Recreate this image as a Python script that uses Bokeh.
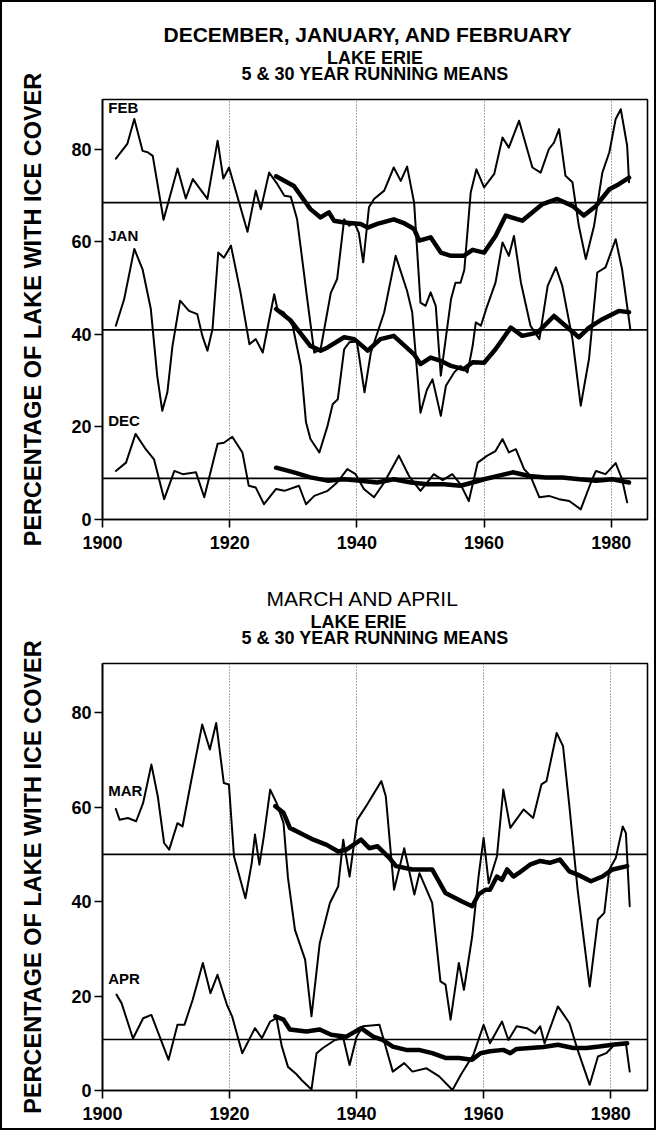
from bokeh.plotting import figure
from bokeh.models import Span, Label, FixedTicker, Range1d, Title
from bokeh.layouts import column
from bokeh.embed import file_html
from bokeh.resources import INLINE

# ---------------- data ----------------
X_TICKS = [1900, 1920, 1940, 1960, 1980]
Y_TICKS = [0, 20, 40, 60, 80]
GRID_YEARS = [1920, 1940, 1960, 1980]

FEB_MEAN = 68.5
JAN_MEAN = 41.0
DEC_MEAN = 8.9
MAR_MEAN = 50.0
APR_MEAN = 10.8

feb5_year = [1902.1, 1903.9, 1905.0, 1906.3, 1907.1, 1907.9, 1909.6, 1911.8, 1913.1, 1914.2, 1916.5, 1918.1, 1919.0, 1919.9,
             1922.8, 1924.1, 1924.9, 1926.2, 1927.5, 1928.6, 1929.6, 1930.6, 1931.4, 1932.2, 1933.3, 1934.3, 1935.9, 1936.9,
             1938.0, 1938.8, 1939.6, 1940.3, 1941.0, 1941.9, 1942.7, 1944.3, 1945.8, 1946.9, 1947.9, 1949.0, 1950.0, 1950.8,
             1951.6, 1952.4, 1953.2, 1954.8, 1955.5, 1956.3, 1956.9, 1957.9, 1958.8, 1960.0, 1961.6, 1962.9, 1963.9, 1965.5,
             1967.6, 1968.9, 1970.2, 1971.0, 1971.8, 1972.8, 1973.9, 1974.9, 1976.0, 1977.3, 1978.6, 1979.7, 1980.7, 1981.5,
             1982.5, 1982.8]
feb5_val = [78.0, 81.2, 86.6, 79.7, 79.4, 78.6, 64.8, 75.9, 69.4, 73.6, 69.3, 81.9, 73.7, 76.1,
            62.2, 71.1, 67.1, 75.0, 72.5, 70.0, 69.8, 64.9, 56.3, 47.6, 36.1, 36.8, 49.0, 52.0,
            64.9, 63.5, 64.2, 62.0, 55.6, 67.5, 69.3, 71.1, 76.1, 73.2, 76.3, 68.5, 46.9, 46.2,
            49.1, 46.2, 31.1, 47.6, 51.2, 51.2, 54.0, 70.7, 75.7, 71.8, 74.7, 82.6, 80.4, 86.2,
            76.1, 75.0, 80.1, 81.5, 84.4, 74.3, 72.9, 63.5, 56.3, 63.5, 75.0, 79.4, 86.6, 88.7,
            80.8, 72.9]

feb30_year = [1927.3, 1930.1, 1932.7, 1934.3, 1935.6, 1936.4, 1938.0, 1940.6, 1941.7, 1943.2, 1945.8, 1947.5, 1949.0,
              1949.8, 1951.6, 1953.2, 1954.8, 1956.8, 1958.2, 1960.0, 1961.8, 1963.4, 1966.0, 1969.2, 1971.5, 1973.9,
              1975.7, 1977.6, 1979.7, 1981.2, 1982.8]
feb30_val = [74.2, 72.1, 67.1, 65.3, 66.4, 64.6, 64.2, 63.9, 63.1, 63.9, 64.9, 64.0, 62.8,
             60.3, 61.0, 57.7, 57.0, 57.0, 58.3, 57.7, 61.3, 65.7, 64.6, 68.2, 69.3, 67.8,
             65.7, 67.8, 71.4, 72.5, 73.9]

jan5_year = [1902.1, 1903.4, 1905.0, 1906.3, 1907.6, 1908.6, 1909.4, 1910.2, 1911.0, 1912.2, 1913.6, 1914.9, 1915.7, 1916.5,
             1917.3, 1918.2, 1919.1, 1920.2, 1921.7, 1923.1, 1924.1, 1925.2, 1927.0, 1927.5, 1928.5, 1929.9, 1931.2, 1932.0,
             1932.7, 1934.1, 1935.4, 1936.2, 1937.0, 1938.0, 1938.8, 1940.0, 1941.2, 1942.2, 1944.3, 1946.1, 1947.9, 1948.7,
             1950.0, 1951.0, 1951.9, 1953.2, 1954.0, 1955.3, 1956.3, 1957.4, 1958.2, 1958.7, 1959.5, 1960.5, 1961.8, 1962.9,
             1963.9, 1964.7, 1965.8, 1967.3, 1968.7, 1970.0, 1971.3, 1972.3, 1973.9, 1975.2, 1976.5, 1977.8, 1979.1, 1980.7,
             1981.7, 1983.0]
jan5_val = [41.9, 47.6, 58.5, 54.1, 45.5, 31.1, 23.5, 27.5, 37.5, 47.3, 45.1, 44.4, 39.7, 36.5,
            41.2, 57.7, 56.6, 59.2, 49.1, 37.9, 39.0, 36.1, 48.7, 45.5, 44.8, 41.9, 33.2, 21.0,
            17.4, 14.5, 20.3, 24.9, 26.0, 36.8, 38.3, 38.5, 27.5, 36.1, 44.8, 57.0, 49.4, 44.8,
            23.1, 28.0, 30.3, 22.4, 28.9, 31.8, 33.2, 31.8, 37.5, 42.6, 41.9, 46.2, 51.2, 59.9,
            57.0, 61.3, 51.2, 41.9, 39.0, 50.5, 54.5, 50.5, 39.0, 24.6, 34.7, 53.4, 54.5, 60.6,
            54.1, 41.1]

jan30_year = [1927.3, 1929.6, 1932.7, 1934.3, 1935.4, 1938.0, 1939.6, 1941.7, 1943.7, 1945.8, 1949.0, 1950.0, 1951.6,
              1953.2, 1954.8, 1956.8, 1958.2, 1960.0, 1961.8, 1964.2, 1966.0, 1968.4, 1971.0, 1972.8, 1974.9, 1976.5,
              1978.6, 1981.2, 1982.8]
jan30_val = [45.5, 43.0, 37.5, 36.5, 37.2, 39.4, 39.0, 36.5, 39.0, 39.7, 35.7, 33.6, 35.0,
             34.3, 33.2, 32.5, 34.0, 33.9, 36.8, 41.5, 39.7, 40.4, 44.0, 41.9, 39.4, 41.5,
             43.3, 45.1, 44.8]

dec5_year = [1902.1, 1903.7, 1905.2, 1906.8, 1908.1, 1909.7, 1911.3, 1912.6, 1914.7, 1916.0, 1918.1, 1919.1, 1920.4, 1922.0,
             1923.0, 1924.1, 1925.4, 1927.3, 1928.6, 1930.9, 1932.0, 1933.3, 1935.4, 1936.9, 1938.5, 1939.8, 1941.1, 1942.7,
             1944.3, 1946.6, 1948.2, 1950.0, 1952.1, 1953.5, 1955.0, 1956.3, 1957.6, 1959.0, 1960.5, 1961.8, 1962.9, 1963.9,
             1965.0, 1966.3, 1967.3, 1968.7, 1970.2, 1971.8, 1973.4, 1975.2, 1977.0, 1977.6, 1979.1, 1980.7, 1981.7, 1982.5]
dec5_val = [10.5, 12.3, 18.5, 15.2, 13.0, 4.4, 10.5, 9.8, 10.2, 4.8, 16.4, 16.6, 17.9, 14.5,
            7.3, 6.9, 3.3, 6.6, 6.2, 7.3, 3.3, 5.1, 6.2, 8.0, 10.9, 9.8, 6.6, 4.8,
            8.0, 13.8, 9.4, 6.2, 9.8, 8.5, 9.8, 7.6, 4.0, 12.3, 13.8, 14.8, 17.4, 14.5,
            15.2, 10.9, 9.4, 4.8, 5.1, 4.4, 4.0, 2.2, 8.7, 10.5, 9.8, 12.2, 8.7, 3.7]

dec30_year = [1927.3, 1930.1, 1932.7, 1935.4, 1938.0, 1940.6, 1943.2, 1945.8, 1948.5, 1951.1, 1953.7, 1956.3, 1958.2,
              1960.0, 1964.5, 1967.1, 1969.7, 1972.3, 1975.0, 1977.6, 1980.2, 1982.8]
dec30_val = [11.2, 10.2, 9.1, 8.4, 8.7, 8.4, 8.0, 8.7, 8.0, 7.6, 7.6, 7.3, 8.0,
             8.7, 10.2, 9.4, 9.1, 9.1, 8.7, 8.4, 8.7, 8.0]

mar5_year = [1902.1, 1902.7, 1904.0, 1905.3, 1906.4, 1907.7, 1908.7, 1909.7, 1910.5, 1911.8, 1912.6, 1913.9, 1915.7, 1916.9,
             1917.9, 1919.1, 1919.9, 1920.7, 1922.5, 1923.5, 1924.0, 1924.7, 1925.4, 1926.4, 1927.4, 1928.5, 1929.2, 1930.3,
             1931.9, 1932.9, 1934.2, 1935.8, 1937.1, 1937.9, 1938.9, 1940.1, 1941.5, 1943.9, 1944.6, 1945.9, 1947.5, 1949.1,
             1949.9, 1951.9, 1953.2, 1954.0, 1954.8, 1956.1, 1956.9, 1958.2, 1959.2, 1960.0, 1960.8, 1962.1, 1963.1, 1964.2,
             1966.3, 1967.8, 1969.1, 1969.9, 1971.5, 1972.5, 1973.5, 1974.8, 1976.7, 1978.0, 1979.0, 1979.8, 1980.8, 1981.9,
             1982.4, 1983.0]
mar5_val = [59.6, 57.3, 57.7, 57.0, 60.9, 69.0, 62.3, 52.4, 51.0, 56.6, 55.9, 65.1, 77.5, 72.2,
            77.8, 65.1, 64.8, 49.6, 40.7, 48.2, 54.2, 47.8, 53.8, 63.7, 60.9, 56.6, 45.0, 34.0,
            27.7, 15.7, 31.2, 39.7, 43.2, 53.1, 45.3, 57.3, 60.2, 65.5, 62.3, 42.5, 51.3, 41.5,
            46.0, 39.7, 23.1, 22.4, 15.0, 27.0, 21.3, 32.6, 45.3, 53.5, 43.9, 49.6, 63.7, 55.6,
            59.5, 57.7, 64.8, 65.5, 75.7, 72.9, 60.2, 42.5, 22.0, 36.2, 37.6, 46.8, 49.2, 55.9,
            54.5, 39.0]

mar30_year = [1927.2, 1928.5, 1929.5, 1931.1, 1933.2, 1935.3, 1937.1, 1938.4, 1940.7, 1942.0, 1943.3, 1945.2, 1946.2,
              1948.8, 1951.9, 1954.0, 1956.6, 1958.2, 1959.2, 1960.3, 1961.0, 1962.1, 1962.9, 1963.7, 1964.7, 1965.5,
              1967.3, 1968.9, 1970.4, 1972.0, 1973.5, 1974.8, 1976.9, 1978.7, 1980.3, 1982.6]
mar30_val = [60.2, 58.8, 55.6, 54.5, 53.1, 52.0, 50.6, 51.0, 53.1, 51.3, 51.7, 49.2, 47.5,
             46.8, 46.8, 41.8, 40.0, 39.0, 41.5, 42.5, 42.5, 45.3, 44.6, 46.8, 45.3, 46.0,
             47.8, 48.6, 48.2, 48.9, 46.4, 45.7, 44.3, 45.3, 46.8, 47.5]

apr5_year = [1902.2, 1903.0, 1904.8, 1906.4, 1907.7, 1909.0, 1910.4, 1911.8, 1912.9, 1914.2, 1915.8, 1917.0, 1918.1, 1919.6,
             1920.4, 1922.0, 1924.0, 1925.1, 1926.4, 1927.4, 1928.2, 1929.2, 1930.5, 1931.5, 1932.9, 1933.7, 1934.7, 1936.6,
             1937.9, 1938.9, 1940.0, 1941.0, 1943.6, 1945.7, 1947.5, 1948.8, 1951.0, 1953.0, 1955.1, 1956.4, 1956.9, 1958.4,
             1960.0, 1961.0, 1962.9, 1963.9, 1965.2, 1966.8, 1968.1, 1968.9, 1969.6, 1971.7, 1973.5, 1974.8, 1976.7, 1978.0,
             1979.3, 1980.8, 1982.4, 1983.0]
apr5_val = [20.3, 18.5, 11.0, 15.3, 16.0, 11.4, 6.5, 13.9, 13.9, 19.2, 27.0, 20.6, 24.5, 18.1,
            15.7, 7.9, 13.2, 11.1, 14.6, 15.3, 9.5, 5.0, 3.5, 2.0, 0.2, 7.9, 9.0, 10.7,
            11.1, 5.4, 11.4, 13.6, 13.9, 4.0, 5.8, 4.0, 4.7, 3.0, 0.1, 3.3, 4.4, 7.6,
            13.9, 10.0, 14.6, 10.7, 13.6, 13.2, 12.1, 13.6, 10.0, 17.8, 14.3, 8.6, 1.2, 7.2,
            7.9, 10.0, 10.0, 4.0]

apr30_year = [1927.2, 1928.5, 1929.5, 1932.1, 1934.2, 1936.0, 1938.4, 1940.7, 1942.6, 1944.1, 1945.7, 1947.8, 1949.8,
              1951.9, 1954.0, 1956.1, 1958.2, 1959.5, 1961.0, 1963.1, 1964.2, 1965.2, 1967.3, 1969.4, 1971.7, 1974.1,
              1976.2, 1978.2, 1980.3, 1982.6]
apr30_val = [15.7, 15.0, 12.9, 12.5, 12.9, 11.8, 11.4, 13.2, 11.4, 10.7, 9.3, 8.6, 8.6,
             7.9, 6.9, 6.9, 6.5, 7.9, 8.3, 8.6, 7.9, 8.8, 9.0, 9.2, 9.7, 9.0,
             9.0, 9.3, 9.7, 10.0]

# ---------------- styling ----------------
FONT = "Liberation Sans"
W = 652
THIN = 2.0
THICK = 4.5


def make_plot(height, bl, frame_w, bt, bb, x_end, y_end, series, means, labels, titles):
    p = figure(width=W, height=height, output_backend="svg", toolbar_location=None,
               x_range=Range1d(1900, x_end), y_range=Range1d(0, y_end),
               min_border_left=bl, min_border_right=W - bl - frame_w,
               min_border_top=bt, min_border_bottom=bb)
    p.background_fill_color = "white"
    p.border_fill_color = "white"
    p.outline_line_color = "black"
    p.outline_line_width = 1.6

    for ax in (p.xaxis[0], p.yaxis[0]):
        ax.axis_line_width = 1.6
        ax.major_tick_line_width = 1.6
        ax.major_tick_out = 8
        ax.major_tick_in = 0
        ax.minor_tick_out = 0
        ax.minor_tick_in = 0
        ax.major_label_text_font = FONT
        ax.major_label_text_font_style = "bold"
        ax.major_label_text_font_size = "18px"
        ax.major_label_text_color = "black"
    p.xaxis.ticker = FixedTicker(ticks=X_TICKS)
    p.yaxis.ticker = FixedTicker(ticks=Y_TICKS)
    p.xaxis.major_label_standoff = 8
    p.yaxis.major_label_standoff = 3
    p.yaxis.axis_label = "PERCENTAGE OF LAKE WITH ICE COVER"
    p.yaxis.axis_label_text_font = FONT
    p.yaxis.axis_label_text_font_style = "bold"
    p.yaxis.axis_label_text_font_size = "23.5px"
    p.yaxis.axis_label_text_color = "black"
    p.yaxis.axis_label_standoff = 22

    p.ygrid.visible = False
    p.xgrid.ticker = FixedTicker(ticks=GRID_YEARS)
    p.xgrid.grid_line_color = "#555555"
    p.xgrid.grid_line_dash = "1 2"
    p.xgrid.grid_line_width = 1

    for m in means:
        p.add_layout(Span(location=m, dimension="width", line_color="black", line_width=1.6))

    for (xs, ys, lw) in series:
        p.line(xs, ys, line_color="black", line_width=lw, line_join="round", line_cap="round")

    for (txt, yv) in labels:
        p.add_layout(Label(x=1900.9, y=yv, text=txt, text_font=FONT, text_font_style="bold",
                           text_color="black", text_font_size="15px",
                           text_baseline="middle", text_align="left"))

    # small spacer next to the frame, then titles from the nearest outward
    p.add_layout(Title(text=" ", text_font_size="4px", standoff=15), "above")
    for (txt, size, style, standoff, align, offset) in titles:
        p.add_layout(Title(text=txt, align=align, text_font=FONT, text_font_style=style,
                           text_font_size=size, text_color="black", standoff=standoff,
                           offset=offset), "above")
    return p


p1 = make_plot(563, 100, 545, 97, 46, 1985.7, 90.8,
               [(feb5_year, feb5_val, THIN), (jan5_year, jan5_val, THIN), (dec5_year, dec5_val, THIN),
                (feb30_year, feb30_val, THICK), (jan30_year, jan30_val, THICK), (dec30_year, dec30_val, THICK)],
               [FEB_MEAN, JAN_MEAN, DEC_MEAN],
               [("FEB", 89.1), ("JAN", 61.4), ("DEC", 21.4)],
               [("5 & 30 YEAR RUNNING MEANS", "18px", "bold", -12, "center", 0),
                ("LAKE ERIE", "18px", "bold", 0, "center", 0),
                ("DECEMBER, JANUARY, AND FEBRUARY", "21px", "bold", 0, "left", 61)])

p2 = make_plot(563, 96, 549, 98, 38, 1985.8, 90.4,
               [(mar5_year, mar5_val, THIN), (apr5_year, apr5_val, THIN),
                (mar30_year, mar30_val, THICK), (apr30_year, apr30_val, THICK)],
               [MAR_MEAN, APR_MEAN],
               [("MAR", 63.6), ("APR", 23.7)],
               [("5 & 30 YEAR RUNNING MEANS", "18px", "bold", -12, "center", 0),
                ("LAKE ERIE", "18px", "bold", 0, "left", 208),
                ("MARCH AND APRIL", "21px", "normal", 0, "left", 164)])

layout = column(p1, p2, spacing=0, styles={"border": "2px solid black"})

open("out.html", "w").write(file_html(layout, INLINE))
